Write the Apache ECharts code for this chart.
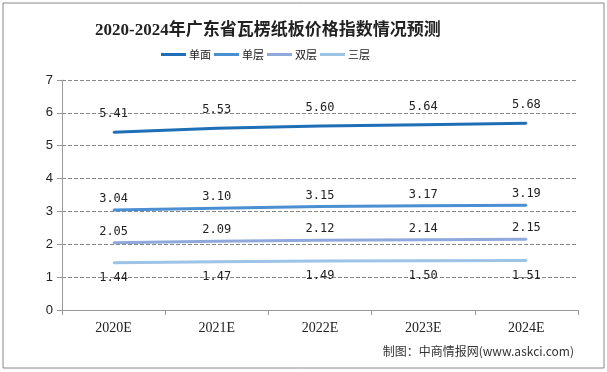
<!DOCTYPE html>
<html><head><meta charset="utf-8">
<script src="https://cdn.jsdelivr.net/npm/echarts@6/dist/echarts.min.js"></script>
<style>html,body{margin:0;padding:0;background:#fff}#c{width:607px;height:372px}</style>
</head><body><div id="c"></div>
<script>
const categories = ['2020E','2021E','2022E','2023E','2024E'];
const seriesNames = ['单面','单层','双层','三层'];
const danmian = [5.41,5.53,5.60,5.64,5.68];
const danceng = [3.04,3.10,3.15,3.17,3.19];
const shuangceng = [2.05,2.09,2.12,2.14,2.15];
const sanceng = [1.44,1.47,1.49,1.50,1.51];
const colors = ['#1f6fb6','#4a8fd2','#8fa9dc','#9dc3e6'];
const labelPos = ['top','top','top','bottom'];
const allData = [danmian,danceng,shuangceng,sanceng];

const chart = echarts.init(document.getElementById('c'));
chart.setOption({
  animation:false,
  title:{text:'2020-2024年广东省瓦楞纸板价格指数情况预测',left:90,top:17,
    textStyle:{fontFamily:'Liberation Serif, Noto Sans CJK SC',fontWeight:'bold',fontSize:17,color:'#222'}},
  legend:{data:seriesNames,left:156,top:44,itemWidth:25,itemHeight:3,itemGap:3,
    icon:'rect',
    textStyle:{fontFamily:'Noto Sans CJK SC',fontSize:11,color:'#222',padding:[0,0,0,-2]}},
  grid:{left:62,right:29,top:80,bottom:62},
  xAxis:{type:'category',data:categories,boundaryGap:true,
    axisLine:{lineStyle:{color:'#999'}},axisTick:{show:true,length:5,lineStyle:{color:'#999'}},
    axisLabel:{fontFamily:'Liberation Serif',fontSize:14,color:'#222',margin:11}},
  yAxis:{type:'value',min:0,max:7,interval:1,
    axisLine:{show:true,lineStyle:{color:'#999'}},axisTick:{show:true,length:5,lineStyle:{color:'#999'}},
    splitLine:{lineStyle:{type:'dashed',color:'#888'}},
    axisLabel:{fontFamily:'Liberation Sans',fontSize:13,color:'#222',margin:9}},
  graphic:[
    {type:'rect',shape:{x:3,y:3,width:601,height:365},style:{fill:'none',stroke:'#888',lineWidth:1},silent:true},
    {type:'text',right:33,top:345,style:{text:'制图：中商情报网(www.askci.com)',fontFamily:'Noto Sans CJK SC',fontSize:12,fill:'#333'}}
  ],
  series: allData.map((d,i)=>({
    name:seriesNames[i],type:'line',data:d,symbol:'circle',symbolSize:2,showSymbol:true,
    lineStyle:{width:3,color:colors[i]},itemStyle:{color:colors[i]},
    label:{show:true,position:labelPos[i],distance:i===0?11:(i===3?8:4),
      formatter:p=>p.value.toFixed(2),fontFamily:'DejaVu Sans Mono',fontSize:12,color:'#222'}
  }))
});
</script></body></html>
